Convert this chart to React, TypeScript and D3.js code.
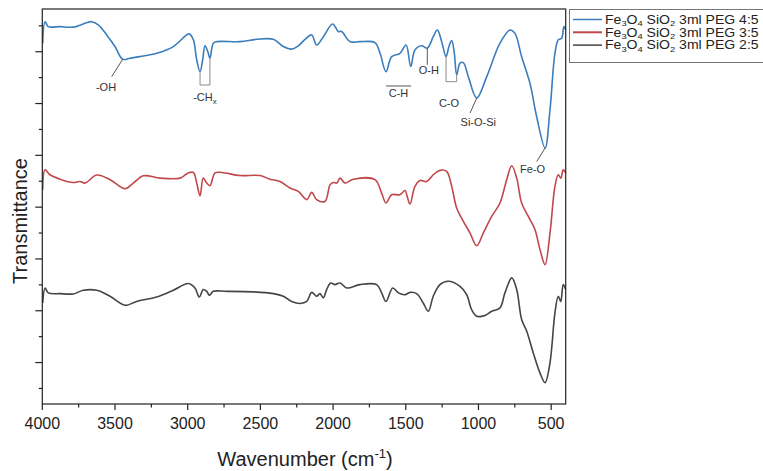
import React from 'react';
import * as d3 from 'd3';

const width = 763;
const height = 471;
const plot = { left: 42.3, right: 565.7, top: 9, bottom: 404 };

const xDomain = [4000, 400];
const yDomain = [-1.6, 13.65];
const xMajorTicks = [4000, 3500, 3000, 2500, 2000, 1500, 1000, 500];
const xMinorTicks = [3750, 3250, 2750, 2250, 1750, 1250, 750];
const yMajorTicks = [0, 2, 4, 6, 8, 10, 12];
const yMinorTicks = [-1, 1, 3, 5, 7, 9, 11, 13];

const seriesSuffix = [' 3ml PEG 4:5', ' 3ml PEG 3:5', ' 3ml PEG 2:5'];
const seriesColors = ['#3b7dbd', '#c0484b', '#454545'];

// PEG 4:5 (blue)
const peg45Wn = [3997, 3981, 3959, 3878, 3787, 3695, 3660, 3615, 3557, 3500, 3447, 3397, 3328, 3213, 3099, 3007, 2989, 2961, 2938, 2915, 2897, 2881, 2862, 2847, 2824, 2800, 2640, 2525, 2411, 2342, 2285, 2239, 2193, 2147, 2113, 2067, 2003, 1964, 1941, 1884, 1815, 1712, 1677, 1636, 1597, 1540, 1498, 1466, 1437, 1390, 1352, 1311, 1283, 1253, 1223, 1203, 1184, 1166, 1150, 1127, 1104, 1070, 1012, 943, 852, 783, 749, 703, 646, 600, 542, 508, 474, 451, 428, 412, 400];
const peg45T = [12.33, 13.16, 12.97, 12.97, 12.95, 13.12, 13.16, 13.04, 12.65, 12.2, 11.71, 11.75, 11.81, 11.94, 12.2, 12.65, 12.69, 12.46, 11.69, 11.23, 11.69, 12.23, 12.01, 11.75, 12.33, 12.39, 12.39, 12.48, 12.48, 12.2, 12.1, 12.23, 12.48, 12.65, 12.26, 12.58, 13.07, 12.78, 12.78, 12.39, 12.39, 12.35, 11.94, 11.23, 11.81, 11.94, 12.26, 11.43, 12.07, 12.23, 12.14, 12.58, 12.84, 12.39, 11.81, 12.2, 12.43, 11.94, 11.11, 11.56, 11.58, 11.04, 10.21, 11.04, 12.33, 12.84, 12.71, 11.81, 10.79, 9.5, 8.28, 9.76, 11.94, 12.46, 12.52, 12.97, 12.84];

// PEG 3:5 (red)
const peg35Wn = [3997, 3981, 3947, 3878, 3787, 3741, 3706, 3626, 3534, 3431, 3374, 3305, 3190, 3053, 2996, 2961, 2938, 2915, 2893, 2869, 2847, 2812, 2766, 2640, 2503, 2434, 2365, 2296, 2239, 2181, 2147, 2113, 2056, 2021, 1999, 1975, 1952, 1918, 1861, 1712, 1666, 1636, 1597, 1540, 1505, 1490, 1471, 1437, 1402, 1356, 1311, 1265, 1219, 1184, 1150, 1104, 1058, 1012, 967, 909, 852, 806, 771, 737, 703, 657, 611, 577, 542, 508, 474, 451, 434, 417, 400];
const peg35T = [6.67, 7.44, 7.25, 7.08, 6.95, 6.99, 6.93, 7.24, 7.06, 6.71, 6.93, 7.21, 7.12, 7.12, 7.32, 7.34, 6.93, 6.44, 7.12, 6.93, 6.83, 7.32, 7.34, 7.22, 7.22, 7.08, 6.99, 6.74, 6.61, 6.29, 6.57, 6.29, 6.22, 6.86, 6.95, 6.93, 7.12, 6.93, 7.08, 7.06, 6.54, 6.16, 6.48, 6.48, 6.64, 6.41, 6.12, 6.8, 7.03, 6.99, 7.25, 7.42, 7.38, 6.8, 5.97, 5.45, 5.0, 4.51, 5.0, 5.64, 6.16, 7.06, 7.6, 7.12, 6.16, 5.64, 5.13, 4.36, 3.78, 5.0, 6.8, 7.25, 7.12, 7.44, 7.32];

// PEG 2:5 (grey)
const peg25Wn = [3997, 3981, 3959, 3878, 3787, 3718, 3626, 3534, 3431, 3351, 3213, 3099, 2996, 2950, 2920, 2893, 2869, 2851, 2824, 2732, 2549, 2411, 2342, 2285, 2227, 2181, 2147, 2113, 2090, 2067, 2044, 2016, 1987, 1952, 1906, 1815, 1700, 1666, 1636, 1590, 1551, 1505, 1471, 1425, 1380, 1345, 1311, 1265, 1208, 1127, 1081, 1047, 1012, 955, 909, 852, 818, 771, 737, 703, 668, 623, 577, 542, 508, 474, 451, 434, 417, 400];
const peg25T = [2.3, 2.88, 2.69, 2.66, 2.65, 2.79, 2.79, 2.56, 2.21, 2.36, 2.53, 2.79, 3.05, 2.88, 2.53, 2.82, 2.75, 2.6, 2.75, 2.75, 2.73, 2.66, 2.56, 2.36, 2.28, 2.36, 2.71, 2.56, 2.66, 2.5, 2.82, 3.07, 3.01, 3.07, 2.88, 3.01, 3.01, 2.69, 2.36, 2.88, 2.69, 2.62, 2.71, 2.66, 2.3, 1.98, 2.56, 3.01, 3.14, 2.94, 2.62, 2.04, 1.79, 1.82, 1.98, 2.11, 2.69, 3.27, 2.82, 1.66, 1.21, 0.37, -0.4, -0.78, -0.01, 1.92, 2.56, 2.36, 3.01, 2.82];

const seriesWn = [peg45Wn, peg35Wn, peg25Wn];
const seriesT = [peg45T, peg35T, peg25T];

const font = '"Liberation Sans", Arial, sans-serif';

function LegendLabel({ x, y, suffix }: { x: number; y: number; suffix: string }) {
  return (
    <text
      transform={`translate(${x},${y}) scale(1.17,1)`}
      fontSize={12}
      fontFamily={font}
      fill="#222"
    >
      Fe<tspan fontSize={8} dy={2.5}>3</tspan>
      <tspan dy={-2.5}>O</tspan>
      <tspan fontSize={8} dy={2.5}>4</tspan>
      <tspan dy={-2.5}> SiO</tspan>
      <tspan fontSize={8} dy={2.5}>2</tspan>
      <tspan dy={-2.5}>{suffix}</tspan>
    </text>
  );
}

export default function App() {
  const x = d3.scaleLinear().domain(xDomain).range([plot.left, plot.right]);
  const y = d3.scaleLinear().domain(yDomain).range([plot.bottom, plot.top]);

  const line = d3
    .line<[number, number]>()
    .x(d => x(d[0]))
    .y(d => y(d[1]))
    .curve(d3.curveCatmullRom.alpha(0.5));

  const paths = seriesWn.map((wn, i) =>
    line(wn.map((w, j) => [w, seriesT[i][j]] as [number, number])) || ''
  );

  const pt = (wn: number, t: number) => [x(wn), y(t)];

  const [ohX, ohY] = pt(3447, 11.71);
  const [ch1X, ch1Y] = pt(2915, 11.23);
  const [ch2X, ch2Y] = pt(2847, 11.75);
  const [chX, chY] = pt(1636, 11.23);
  const [ohbX, ohbY] = pt(1352, 12.14);
  const [co1X, co1Y] = pt(1223, 11.81);
  const [co2X, co2Y] = pt(1150, 11.11);
  const [siX, siY] = pt(1012, 10.21);
  const [feX, feY] = pt(542, 8.28);

  const annColor = '#333';
  const leadColor = '#555';
  const bracketColor = '#8a8a8a';

  return (
    <svg
      width={width}
      height={height}
      viewBox={`0 0 ${width} ${height}`}
      style={{ position: 'absolute', left: 0, top: 0, background: '#fff' }}
    >
      <rect x={0} y={0} width={width} height={height} fill="#fff" />

      {/* curves */}
      {paths.map((d, i) => (
        <path key={i} d={d} fill="none" stroke={seriesColors[i]} strokeWidth={1.6} />
      ))}

      {/* frame */}
      <rect
        x={plot.left}
        y={plot.top}
        width={plot.right - plot.left}
        height={plot.bottom - plot.top}
        fill="none"
        stroke="#222"
        strokeWidth={1.2}
      />

      {/* x ticks */}
      {xMajorTicks.map(t => (
        <g key={t}>
          <line x1={x(t)} x2={x(t)} y1={plot.bottom} y2={plot.bottom + 6} stroke="#222" strokeWidth={1.2} />
          <text x={x(t)} y={429} textAnchor="middle" fontSize={16} fontFamily={font} fill="#222">
            {t}
          </text>
        </g>
      ))}
      {xMinorTicks.map(t => (
        <line key={t} x1={x(t)} x2={x(t)} y1={plot.bottom} y2={plot.bottom + 3.5} stroke="#222" strokeWidth={1.2} />
      ))}

      {/* y ticks */}
      {yMajorTicks.map(t => (
        <line key={t} x1={plot.left - 7} x2={plot.left} y1={y(t)} y2={y(t)} stroke="#222" strokeWidth={1.2} />
      ))}
      {yMinorTicks.map(t => (
        <line key={t} x1={plot.left - 3.5} x2={plot.left} y1={y(t)} y2={y(t)} stroke="#222" strokeWidth={1.2} />
      ))}

      {/* axis titles */}
      <text x={305} y={466} textAnchor="middle" fontSize={20} fontFamily={font} fill="#222">
        Wavenumber (cm<tspan fontSize={13} dy={-8}>-1</tspan>
        <tspan dy={8}>)</tspan>
      </text>
      <text
        transform="translate(27,221) rotate(-90)"
        textAnchor="middle"
        fontSize={20}
        fontFamily={font}
        fill="#222"
      >
        Transmittance
      </text>

      {/* annotations */}
      <g fontFamily={font} fontSize={11} fill={annColor}>
        <line x1={ohX} y1={ohY} x2={ohX - 11} y2={ohY + 17.4} stroke={leadColor} strokeWidth={1} />
        <text x={ohX - 16.7} y={ohY + 31.7} textAnchor="middle">-OH</text>

        <polyline
          points={`${ch1X},${ch1Y} ${ch1X},85 ${ch2X},85 ${ch2X},${ch2Y}`}
          fill="none"
          stroke={bracketColor}
          strokeWidth={1}
        />
        <text x={(ch1X + ch2X) / 2} y={100.5} textAnchor="middle">
          -CH<tspan fontSize={8} dy={3}>x</tspan>
        </text>

        <line x1={chX} y1={chY + 14.3} x2={chX + 25} y2={chY + 14.3} stroke={leadColor} strokeWidth={1} />
        <text x={chX + 12.5} y={chY + 25} textAnchor="middle">C-H</text>

        <line x1={ohbX} y1={ohbY} x2={ohbX} y2={ohbY + 16.7} stroke={leadColor} strokeWidth={1} />
        <text x={ohbX + 1.5} y={ohbY + 26} textAnchor="middle">O-H</text>

        <polyline
          points={`${co1X},${co1Y} ${co1X},81.7 ${co2X},81.7 ${co2X},${co2Y}`}
          fill="none"
          stroke={bracketColor}
          strokeWidth={1}
        />
        <text x={449} y={107} textAnchor="middle">C-O</text>

        <line x1={siX} y1={siY} x2={siX - 6.7} y2={siY + 15} stroke={leadColor} strokeWidth={1} />
        <text x={siX + 1.6} y={siY + 27.7} textAnchor="middle">Si-O-Si</text>

        <line x1={feX} y1={feY} x2={feX - 8.3} y2={feY + 13.4} stroke={leadColor} strokeWidth={1} />
        <text x={feX - 12.5} y={feY + 24.7} textAnchor="middle">Fe-O</text>
      </g>

      {/* legend */}
      <rect x={569.5} y={9.5} width={210} height={53} fill="#fff" stroke="#777" strokeWidth={1} />
      {seriesSuffix.map((suffix, i) => {
        const ly = 19.5 + i * 12.8;
        return (
          <g key={suffix}>
            <line x1={573} x2={602} y1={ly} y2={ly} stroke={seriesColors[i]} strokeWidth={i === 1 ? 2 : 1.5} />
            <LegendLabel x={605} y={ly + 4.3} suffix={suffix} />
          </g>
        );
      })}
    </svg>
  );
}
